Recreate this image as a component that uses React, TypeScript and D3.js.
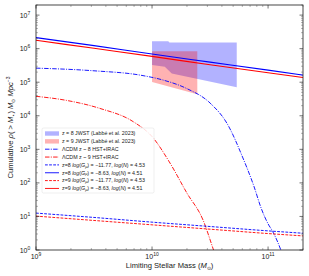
import React from "react";
import * as d3 from "d3";

// tick values
const massTicks = [9, 10, 11];
const rhoTicks = [0, 1, 2, 3, 4, 5, 6, 7];

// power-law models (log10 M, log10 rho)
const modelLogM = [9, 9.5, 10, 10.5, 11, 11.3];
const z8StrongLogRho = [6.33, 6.09, 5.84, 5.6, 5.36, 5.21];
const z9StrongLogRho = [6.25, 6.01, 5.77, 5.52, 5.28, 5.14];
const z8WeakLogRho = [1.1, 0.97, 0.83, 0.7, 0.57, 0.5];
const z9WeakLogRho = [1.01, 0.88, 0.75, 0.62, 0.49, 0.42];

// LCDM curves
const lcdm8LogM = [9.0, 9.5, 9.9, 10.1, 10.3, 10.5, 10.65, 10.78, 10.88, 10.94, 11.0, 11.04, 11.11, 11.14];
const lcdm8LogRho = [5.42, 5.34, 5.21, 5.06, 4.81, 4.38, 3.75, 2.77, 1.88, 1.25, 0.78, 0.55, 0, -0.3];
const lcdm9LogM = [9.0, 9.26, 9.55, 9.84, 10.0, 10.155, 10.3, 10.44, 10.53, 10.56];
const lcdm9LogRho = [4.58, 4.46, 4.22, 3.82, 3.38, 2.59, 1.7, 0.89, 0, -0.3];

// JWST regions (Labbé et al. 2023)
const z8UpperLogM = [10.0, 10.14, 10.15, 10.73];
const z8UpperLogRho = [6.22, 6.22, 6.18, 6.18];
const z8LowerLogM = [10.0, 10.11, 10.17, 10.73];
const z8LowerLogRho = [5.51, 5.46, 5.26, 4.85];
const z9UpperLogM = [10.0, 10.39];
const z9UpperLogRho = [5.92, 5.92];
const z9LowerLogM = [10.0, 10.39];
const z9LowerLogRho = [5.01, 4.64];

const W = 309;
const H = 276;
const m = { left: 36, right: 6, top: 5, bottom: 26 };
const FONT = "'Liberation Sans', Arial, sans-serif";
const INK = "#1a1a1a";

const x = d3.scaleLog().domain([1e9, 2e11]).range([m.left, W - m.right]);
const y = d3.scaleLog().domain([1, 2e7]).range([H - m.bottom, m.top]);

const pts = (lm: number[], lr: number[]) => lm.map((v, i) => [x(10 ** v), y(10 ** lr[i])] as [number, number]);
const line = d3.line().curve(d3.curveMonotoneX);
const poly = (um: number[], ur: number[], lm: number[], lr: number[]) =>
  d3.line()([...pts(um, ur), ...pts(lm, lr).reverse()]) + "Z";

const DASH = "2.8,1.3";
const DASHDOT = "4.5,1.3,1,1.3";

const legendItems = [
  { kind: "patch", color: "rgba(0,0,255,0.3)", label: ["z = 8 JWST (Labbé et al. 2023)"] },
  { kind: "patch", color: "rgba(255,0,0,0.3)", label: ["z = 9 JWST (Labbé et al. 2023)"] },
  { kind: "line", color: "blue", dash: DASHDOT, label: ["ΛCDM z ~ 8 HST+IRAC"] },
  { kind: "line", color: "red", dash: DASHDOT, label: ["ΛCDM z ~ 9 HST+IRAC"] },
  { kind: "line", color: "blue", dash: DASH, z: "8", gmu: "−11.77", n: "4.53" },
  { kind: "line", color: "blue", dash: "", z: "8", gmu: "−8.63", n: "4.51" },
  { kind: "line", color: "red", dash: DASH, z: "9", gmu: "−11.77", n: "4.53" },
  { kind: "line", color: "red", dash: "", z: "9", gmu: "−8.63", n: "4.51" },
];

export default function App() {
  const x0 = m.left, x1 = W - m.right, y0 = m.top, y1 = H - m.bottom;
  const minorX: number[] = [];
  for (let d = 9; d <= 11; d++) for (let k = 2; k <= 9; k++) if (k * 10 ** d <= 2e11) minorX.push(k * 10 ** d);
  const minorY: number[] = [];
  for (let d = 0; d <= 7; d++) for (let k = 2; k <= 9; k++) if (k * 10 ** d <= 2e7) minorY.push(k * 10 ** d);

  const lgX = 42, lgY = 128, lgW = 112, lgH = 65;
  return (
    <svg width={W} height={H} style={{ position: "absolute", left: 0, top: 0 }} fontFamily={FONT}>
      <defs>
        <clipPath id="plot">
          <rect x={x0} y={y0} width={x1 - x0} height={y1 - y0} />
        </clipPath>
      </defs>
      <rect x={0} y={0} width={W} height={H} fill="white" />
      <g clipPath="url(#plot)">
        <path d={poly(z8UpperLogM, z8UpperLogRho, z8LowerLogM, z8LowerLogRho)} fill="rgba(0,0,255,0.3)" />
        <path d={poly(z9UpperLogM, z9UpperLogRho, z9LowerLogM, z9LowerLogRho)} fill="rgba(255,0,0,0.3)" />
        <path d={line(pts(lcdm8LogM, lcdm8LogRho))!} fill="none" stroke="blue" strokeWidth={0.9} strokeDasharray={DASHDOT} />
        <path d={line(pts(lcdm9LogM, lcdm9LogRho))!} fill="none" stroke="red" strokeWidth={0.9} strokeDasharray={DASHDOT} />
        <path d={line(pts(modelLogM, z8WeakLogRho))!} fill="none" stroke="blue" strokeWidth={0.9} strokeDasharray={DASH} />
        <path d={line(pts(modelLogM, z9WeakLogRho))!} fill="none" stroke="red" strokeWidth={0.9} strokeDasharray={DASH} />
        <path d={line(pts(modelLogM, z8StrongLogRho))!} fill="none" stroke="blue" strokeWidth={1.1} />
        <path d={line(pts(modelLogM, z9StrongLogRho))!} fill="none" stroke="red" strokeWidth={1.1} />
      </g>

      {/* frame and ticks */}
      <rect x={x0} y={y0} width={x1 - x0} height={y1 - y0} fill="none" stroke={INK} strokeWidth={0.8} />
      {massTicks.map((d) => (
        <g key={"mx" + d}>
          <line x1={x(10 ** d)} x2={x(10 ** d)} y1={y1} y2={y1 - 3.5} stroke={INK} strokeWidth={0.6} />
          <line x1={x(10 ** d)} x2={x(10 ** d)} y1={y0} y2={y0 + 3.5} stroke={INK} strokeWidth={0.6} />
          <text x={x(10 ** d)} y={y1 + 9} fontSize={7} textAnchor="middle" fill={INK}>
            10<tspan fontSize={5} dy={-3}>{d}</tspan>
          </text>
        </g>
      ))}
      {minorX.map((v) => (
        <g key={"nx" + v}>
          <line x1={x(v)} x2={x(v)} y1={y1} y2={y1 - 2} stroke="#444" strokeWidth={0.4} />
          <line x1={x(v)} x2={x(v)} y1={y0} y2={y0 + 2} stroke="#444" strokeWidth={0.4} />
        </g>
      ))}
      {rhoTicks.map((d) => (
        <g key={"my" + d}>
          <line x1={x0} x2={x0 + 3.5} y1={y(10 ** d)} y2={y(10 ** d)} stroke={INK} strokeWidth={0.6} />
          <line x1={x1} x2={x1 - 3.5} y1={y(10 ** d)} y2={y(10 ** d)} stroke={INK} strokeWidth={0.6} />
          <text x={x0 - 11} y={y(10 ** d) + 2.5} fontSize={7} textAnchor="middle" fill={INK}>
            10<tspan fontSize={5} dy={-3}>{d}</tspan>
          </text>
        </g>
      ))}
      {minorY.map((v) => (
        <g key={"ny" + v}>
          <line x1={x0} x2={x0 + 2} y1={y(v)} y2={y(v)} stroke="#444" strokeWidth={0.4} />
          <line x1={x1} x2={x1 - 2} y1={y(v)} y2={y(v)} stroke="#444" strokeWidth={0.4} />
        </g>
      ))}

      {/* axis labels */}
      <text x={(x0 + x1) / 2} y={268} fontSize={7.6} textAnchor="middle" fill={INK}>
        Limiting Stellar Mass (<tspan fontStyle="italic">M</tspan>
        <tspan fontSize={5} dy={1.5}>⊙</tspan>
        <tspan dy={-1.5}>)</tspan>
      </text>
      <text transform={`translate(13,${(y0 + y1) / 2}) rotate(-90)`} fontSize={7.6} textAnchor="middle" fill={INK}>
        Cumulative <tspan fontStyle="italic">ρ</tspan>( &gt; <tspan fontStyle="italic">M</tspan>
        <tspan fontSize={5} dy={1.5}>⋆</tspan>
        <tspan dy={-1.5}>) </tspan>
        <tspan fontStyle="italic">M</tspan>
        <tspan fontSize={5} dy={1.5}>⊙</tspan>
        <tspan dy={-1.5} fontStyle="italic"> Mpc</tspan>
        <tspan fontSize={5} dy={-3}>−3</tspan>
      </text>

      {/* legend */}
      <rect x={lgX} y={lgY} width={lgW} height={lgH} rx={1.5} fill="white" fillOpacity={0.85} stroke="#ddd" strokeWidth={0.5} />
      {legendItems.map((it, i) => {
        const cy = lgY + 5.5 + i * 7.85;
        return (
          <g key={i}>
            {it.kind === "patch" ? (
              <rect x={lgX + 3} y={cy - 2.2} width={14} height={4.4} fill={it.color} />
            ) : (
              <line x1={lgX + 3} x2={lgX + 17} y1={cy} y2={cy} stroke={it.color} strokeWidth={0.9} strokeDasharray={it.dash || undefined} />
            )}
            <text x={lgX + 20} y={cy + 1.8} fontSize={5.3} fill={INK}>
              {it.label ? (
                it.label[0]
              ) : (
                <>
                  z={it.z} <tspan fontStyle="italic">log</tspan>(<tspan fontStyle="italic">G</tspan>
                  <tspan fontStyle="italic" fontSize={4} dy={0.8}>μ</tspan>
                  <tspan dy={-0.8}>) = {it.gmu}, </tspan>
                  <tspan fontStyle="italic">log</tspan>(<tspan fontStyle="italic">N</tspan>) = {it.n}
                </>
              )}
            </text>
          </g>
        );
      })}
    </svg>
  );
}
